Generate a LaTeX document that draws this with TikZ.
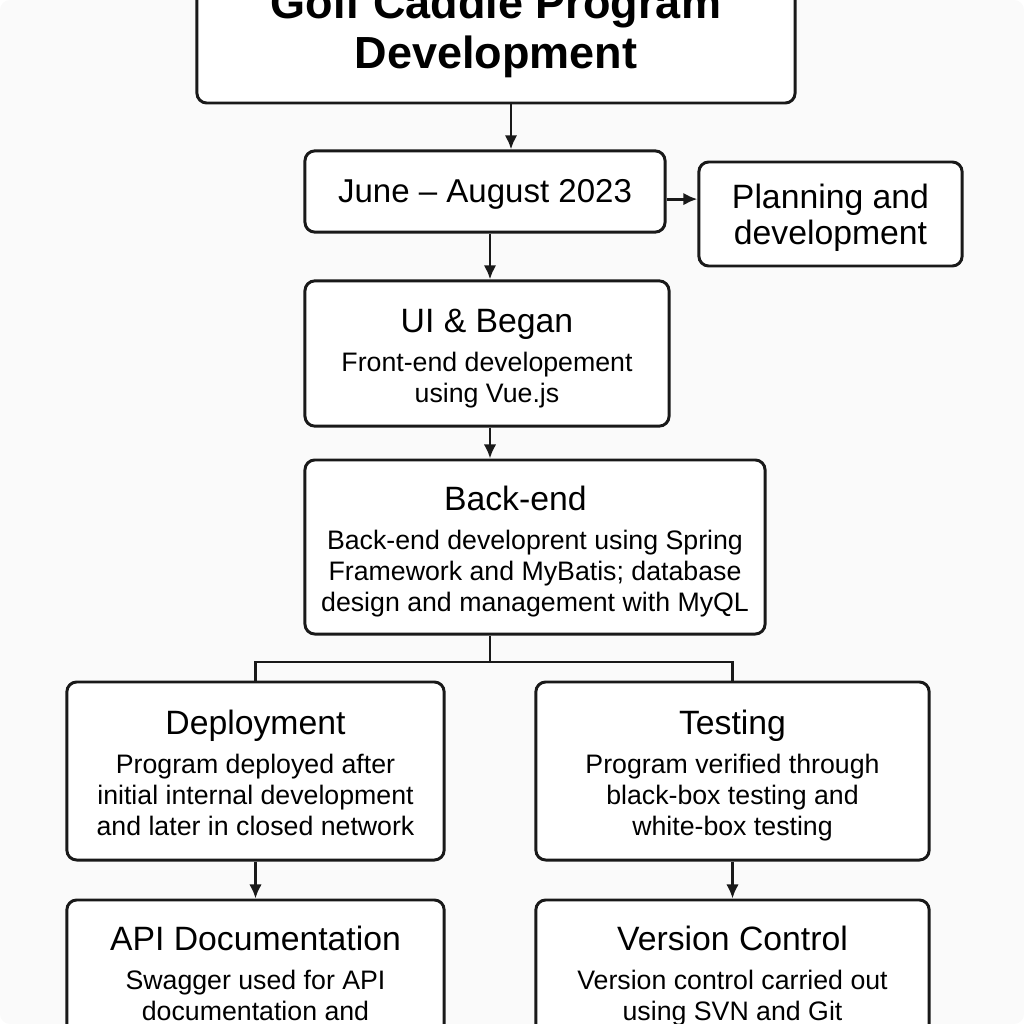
\documentclass[tikz,border=0pt]{standalone}
\usepackage{fontspec}
\setmainfont{Liberation Sans}
\usetikzlibrary{arrows.meta,shapes,calc}

% box heading above the description lines
\newcommand\boxtitle[1]{{\fontsize{24}{29}\selectfont\rule{0pt}{25pt}#1}}
\newcommand\boxend{\rule[-5pt]{0pt}{5pt}}

\begin{document}
\begin{tikzpicture}[x=0.025cm, y=-0.025cm, line width=2.1pt, >={Latex[length=10pt,width=9pt]}, rounded corners=7pt]
    \tikzstyle{stage}=[rectangle, draw=black!90, fill=white, align=center, font=\fontsize{19}{22}\selectfont]
    \tikzstyle{link}=[draw=black!90, rounded corners=0pt]
    \useasboundingbox (0,0) rectangle (1024,1024);
    \clip (0,0) rectangle (1024,1024);
    \fill[black!2, rounded corners=0pt] (0,0) rectangle (1024,1024);

    \node[stage, minimum width=14.95cm, minimum height=3.55cm, font=\fontsize{32}{36}\selectfont\bfseries] (title) at (496,32) {Golf Caddie Program\\Development};
    \node[stage, minimum width=9cm, minimum height=2.03cm, font=\fontsize{23.5}{28}\selectfont] (june) at (485,191.5) {\rule{0pt}{21pt}June -- August 2023};
    \node[stage, minimum width=6.58cm, minimum height=2.6cm, font=\fontsize{24}{26}\selectfont] (plan) at (830.5,214) {\rule{0pt}{23pt}Planning and\\development};
    \node[stage, minimum width=9.1cm, minimum height=3.63cm] (ui) at (487,353.5)
      {\boxtitle{UI \& Began}\\[6pt] Front-end developement\\ using Vue.js\boxend};
    \node[stage, minimum width=11.5cm, minimum height=4.35cm] (back) at (535,547)
      {\boxtitle{Back-end\rule{28pt}{0pt}}\\[6pt] Back-end developrent using Spring\\ Framework and MyBatis; database\\ design and management with MyQL\boxend};
    \node[stage, minimum width=9.43cm, minimum height=4.45cm] (deploy) at (255.5,771)
      {\boxtitle{Deployment}\\[6pt] Program deployed after\\ initial internal development\\ and later in closed network\boxend};
    \node[stage, minimum width=9.83cm, minimum height=4.45cm] (test) at (732.5,771)
      {\boxtitle{Testing}\\[6pt] Program verified through\\ black-box testing and\\ white-box testing\boxend};
    \node[stage, minimum width=9.43cm, minimum height=3.575cm] (api) at (255.5,971.5)
      {\boxtitle{API Documentation}\\[6pt] Swagger used for API\\ documentation and\boxend};
    \node[stage, minimum width=9.83cm, minimum height=3.575cm] (version) at (732.5,971.5)
      {\boxtitle{Version Control}\\[6pt] Version control carried out\\ using SVN and Git\boxend};

    \coordinate (split) at (490,662);

    \draw[link, ->] ([xshift=.375cm]title.south) -- ([xshift=.375cm]title.south |- june.north);
    \draw[link, ->] ([yshift=-.19cm]june.east) -- ([yshift=-.19cm]june.east -| plan.west);
    \draw[link, ->] (june.south -| split) -- (ui.north -| split);
    \draw[link, ->] (ui.south -| split) -- (back.north -| split);
    \draw[link] (back.south -| split) -- (split);
    \draw[link] (deploy.north) |- (split) -| (test.north);
    \draw[link, ->] (deploy.south) -- (api.north);
    \draw[link, ->] (test.south) -- (version.north);
\end{tikzpicture}
\end{document}
